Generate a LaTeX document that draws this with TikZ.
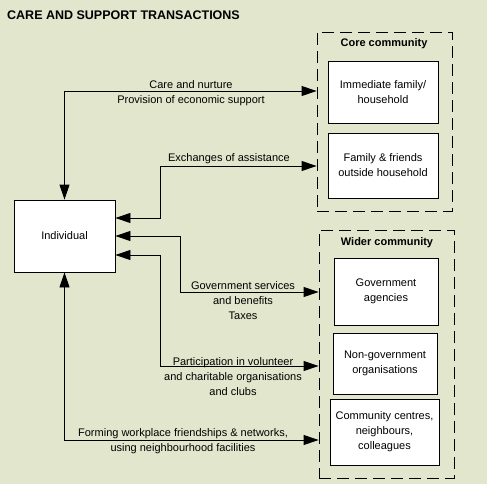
\documentclass[tikz,border=0pt]{standalone}
\usepackage{fontspec}
\setmainfont{Liberation Sans}
\usetikzlibrary{arrows.meta}
\definecolor{bg}{RGB}{226,230,205}
\begin{document}
\begin{tikzpicture}[x=1pt,y=-1pt,
  box/.style={draw=black,fill=white,line width=0.9pt,align=center,inner sep=0pt,
    font=\fontsize{11}{15}\selectfont},
  group/.style={draw=black,line width=0.9pt,dash pattern=on 12pt off 6pt,inner sep=0pt},
  grouptitle/.style={font=\fontsize{11}{13}\selectfont\bfseries},
  lbl/.style={align=center,inner sep=0pt,font=\fontsize{11}{15}\selectfont},
  dbl/.style={line width=0.9pt,{Triangle[length=15pt,width=10pt]}-{Triangle[length=15pt,width=10pt]}}]
\fill[bg] (0,0) rectangle (487,484);
\useasboundingbox (0,0) rectangle (487,484);
\node[anchor=west,inner sep=0pt,font=\fontsize{12.5}{14}\selectfont\bfseries] (title) at (7,15) {CARE AND SUPPORT TRANSACTIONS};
% groups
\node[group,minimum width=135pt,minimum height=179pt] (core) at (384.5,121.5) {};
\node[group,minimum width=135pt,minimum height=248pt] (wider) at (386.5,354) {};
\node[grouptitle] (coret) at (384,43.5) {Core community};
\node[grouptitle] (widert) at (387,242.5) {Wider community};
% boxes
\node[box,minimum width=101pt,minimum height=72pt] (ind) at (64.5,236) {Individual};
\node[box,minimum width=110pt,minimum height=62pt] (imm) at (383,92) {Immediate family/\\household};
\node[box,minimum width=110pt,minimum height=65pt] (fam) at (383,165.5) {Family \& friends\\outside household};
\node[box,minimum width=104pt,minimum height=67pt] (gov) at (386,291.5) {Government\\agencies};
\node[box,minimum width=104pt,minimum height=61pt] (ngo) at (385,363.5) {Non-government\\organisations};
\node[box,minimum width=109pt,minimum height=66pt] (com) at (384.5,432) {Community centres,\\neighbours,\\colleagues};
% turning coordinates
\coordinate (k1) at (0,91);
\coordinate (s2) at (0,218);
\coordinate (k2) at (160,166);
\coordinate (k3) at (180,292);
\coordinate (s4) at (0,255);
\coordinate (k4) at (160,366);
\coordinate (k5) at (0,440);
% connectors
\draw[dbl] (ind.north) |- (core.west |- k1);
\draw[dbl] (ind.east |- s2) -| (k2) -- (core.west |- k2);
\draw[dbl] (ind.east) -| (k3) -- (wider.west |- k3);
\draw[dbl] (ind.east |- s4) -| (k4) -- (wider.west |- k4);
\draw[dbl] (ind.south) |- (wider.west |- k5);
% labels
\node[lbl] (l1) at (191,93) {Care and nurture\\Provision of economic support};
\node[lbl] (l2) at (229,158.5) {Exchanges of assistance};
\node[lbl] (l3) at (243,301) {Government services\\and benefits\\Taxes};
\node[lbl] (l4) at (233,376.5) {Participation in volunteer\\and charitable organisations\\and clubs};
\node[lbl] (l5) at (183,441) {Forming workplace friendships \& networks,\\using neighbourhood facilities};
\end{tikzpicture}
\end{document}
